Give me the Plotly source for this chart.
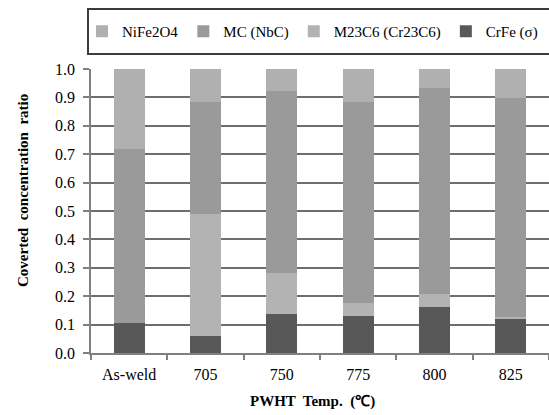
import plotly.graph_objects as go

# PWHT conditions
categories = ["As-weld", "705", "750", "775", "800", "825"]

# Converted concentration ratio of each phase (stacked bottom to top)
crfe = [0.104, 0.060, 0.139, 0.132, 0.161, 0.123]
m23c6 = [0.000, 0.429, 0.141, 0.044, 0.048, 0.004]
mc = [0.613, 0.396, 0.641, 0.709, 0.725, 0.770]
nife2o4 = [0.283, 0.115, 0.079, 0.115, 0.066, 0.103]

y_ticks = [0.0, 0.1, 0.2, 0.3, 0.4, 0.5, 0.6, 0.7, 0.8, 0.9, 1.0]

series = [
    ("CrFe (σ)", crfe, "#585858"),
    ("M23C6 (Cr23C6)", m23c6, "#b3b3b3"),
    ("MC (NbC)", mc, "#9a9a9a"),
    ("NiFe2O4", nife2o4, "#b0b0b0"),
]

FONT = "Liberation Serif"

fig = go.Figure()
for name, vals, color in series:
    fig.add_trace(go.Bar(
        x=categories, y=vals, name=name,
        marker=dict(color=color, line=dict(width=0)),
    ))

W, H = 549, 415
L, R, T, B = 91, 0, 69, 62
pw, ph = W - L - R, H - T - B


def px_x(p):
    return (p - L) / pw


def px_y(p):
    return (H - B - p) / ph


fig.update_layout(
    template="none",
    width=W, height=H,
    margin=dict(l=L, r=R, t=T, b=B),
    barmode="stack",
    bargap=0.595,
    plot_bgcolor="white",
    paper_bgcolor="white",
    font=dict(family=FONT, size=15, color="black"),
    legend=dict(
        orientation="h",
        traceorder="reversed",
        xref="container", yref="container",
        x=82 / W, xanchor="left",
        y=1 - 31.5 / H, yanchor="middle",
        font=dict(family=FONT, size=15, color="black"),
        bgcolor="rgba(0,0,0,0)",
        borderwidth=0,
    ),
    xaxis=dict(
        type="category",
        tickson="boundaries",
        ticks="outside", ticklen=5, tickcolor="#808080", tickwidth=1.5,
        showline=True, linecolor="#808080", linewidth=1.5,
        showgrid=False,
        ticklabelstandoff=6,
        tickfont=dict(family=FONT, size=16, color="black"),
    ),
    yaxis=dict(
        range=[0, 1.0],
        tickvals=y_ticks,
        tickformat=".1f",
        ticks="outside", ticklen=6, tickcolor="#808080", tickwidth=1.5,
        showline=True, linecolor="#808080", linewidth=1.5,
        showgrid=True, gridcolor="#6e6e6e", gridwidth=2,
        zeroline=False,
        ticklabelstandoff=5,
        tickfont=dict(family=FONT, size=16, color="black"),
    ),
    shapes=[
        dict(type="rect", xref="paper", yref="paper",
             x0=px_x(88), x1=px_x(560), y0=px_y(54), y1=px_y(9),
             line=dict(color="#3c3c3c", width=2), fillcolor="rgba(0,0,0,0)",
             layer="below"),
    ],
    annotations=[
        dict(text="<b>Coverted  concentration  ratio</b>", textangle=-90,
             xref="paper", yref="paper", x=px_x(23), y=px_y(191),
             xanchor="center", yanchor="middle", showarrow=False,
             font=dict(family=FONT, size=15)),
        dict(text="<b>PWHT  Temp.  (℃)</b>",
             xref="paper", yref="paper", x=px_x(312), y=px_y(402),
             xanchor="center", yanchor="middle", showarrow=False,
             font=dict(family=FONT, size=15)),
    ],
)

fig.write_html("out.html")
